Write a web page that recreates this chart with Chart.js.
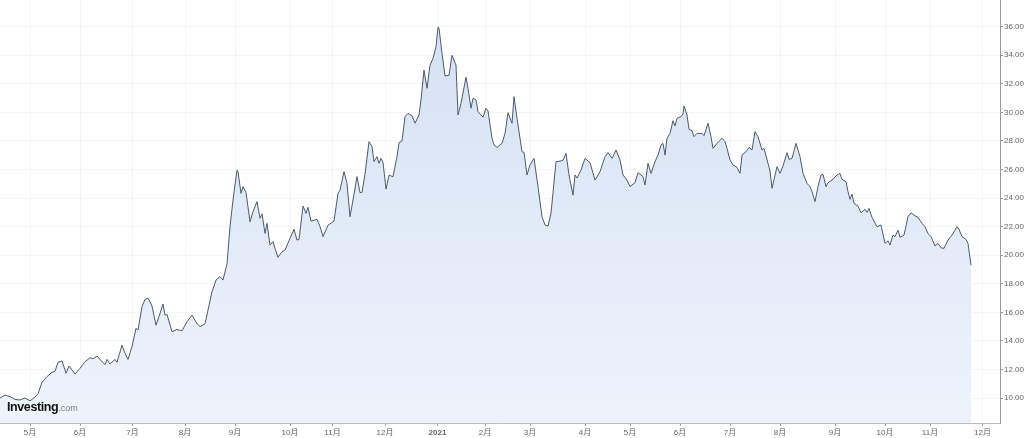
<!DOCTYPE html>
<html>
<head>
<meta charset="utf-8">
<script src="https://cdn.jsdelivr.net/npm/chart.js@4.4.1/dist/chart.umd.min.js"></script>
<style>
    html, body { margin: 0; padding: 0; background: #fff; }
    #wrap { position: relative; width: 1024px; height: 438px; }
    #logo { position: absolute; left: 7px; top: 397px; font-family: "Liberation Sans", Arial, sans-serif; color: #111; }
    #logo b { font-size: 12.5px; letter-spacing: -0.4px; }
    #logo span { font-size: 9px; color: #7a7a7a; }
</style>
</head>
<body>
<div id="wrap">
    <canvas id="chart" width="1024" height="438"></canvas>
    <div id="logo"><b>Investing</b><span>.com</span></div>
</div>
<script>
// trading-day index from start of the window, and closing price
const days = [
    0, 2, 4, 6, 8, 10, 12, 14, 15.2, 16.8, 18.8, 20.8, 22, 23.2, 24.8, 26.4, 27.6, 30, 32, 34,
    36, 37.2, 38.8, 40, 42, 42.8, 44, 46, 46.8, 48.8, 50, 51.2, 52.8, 54.4, 55.2, 56.8, 58, 59.2, 60.8, 62.4,
    63.6, 65.2, 66, 66.8, 68.8, 70.8, 72.8, 74.8, 76.8, 78.8, 80, 82, 83.2, 84.8, 86.4, 88, 89.2, 90.8, 92, 93.2,
    94.8, 95.2, 96.4, 97.2, 98.4, 100, 101.2, 102.8, 104, 104.8, 106, 106.8, 108, 109.2, 110, 111.2, 112.8, 114, 116, 117.6,
    118.8, 119.6, 121.2, 122.4, 123.2, 124.4, 126.8, 128, 129.2, 131.2, 133.6, 135.2, 136, 137.6, 138.8, 140, 141.2, 142.8, 144, 144.8,
    146, 147.6, 148.8, 149.6, 150.8, 151.6, 152.4, 153.2, 154.4, 155.6, 157.2, 158.8, 159.6, 160.8, 162, 163.2, 164.8, 166, 167.6, 168.4,
    169.6, 170.8, 172, 173.2, 174.4, 175.2, 175.6, 176.8, 178, 179.6, 180.8, 182.4, 183.2, 184.4, 186.4, 187.2, 188.4, 189.2, 190.4, 191.2,
    193.2, 194.4, 195.2, 196.8, 197.6, 198.8, 200.8, 202, 203.2, 204.8, 205.6, 206.8, 208.8, 209.6, 210.8, 212, 213.6, 215.2, 216.8, 218,
    219.2, 220.4, 222.4, 224.4, 225.2, 226.4, 227.6, 229.2, 230, 230.8, 232.4, 234, 236, 238, 240, 242, 243.2, 244.8, 246.4, 248,
    249.2, 250.8, 252, 254, 255.2, 257.2, 258, 259.2, 260.4, 262, 263.2, 264.4, 265.2, 266, 266.8, 268, 269.2, 270, 270.8, 272.4,
    273.2, 273.6, 274.8, 275.6, 276.8, 277.6, 278.8, 280.8, 281.6, 283.2, 284.4, 285.2, 286.8, 288.8, 290, 290.8, 292, 293.2, 294.8, 296,
    296.8, 298.8, 299.6, 300.8, 302, 303.2, 304.8, 305.6, 307.2, 308, 308.8, 310.8, 312, 313.2, 314.8, 315.6, 316.8, 318.4, 320, 321.2,
    322.8, 324, 324.8, 326, 327.2, 328.4, 329.2, 330.4, 331.2, 333.2, 334.8, 336, 336.8, 338.4, 339.2, 340, 340.8, 341.6, 343.2, 344.4,
    346, 346.8, 347.6, 348.8, 350.8, 352.4, 354, 355.2, 356, 357.2, 358, 359.2, 360, 361.6, 363.2, 364.4, 366, 367.2, 368.8, 370,
    371.2, 372.4, 374, 375.2, 376.4, 377.6, 379.2, 380.8, 382.8, 383.6, 384.8, 386.4, 387.2, 388.4
];
const closes = [
    10.0, 10.2, 10.1, 9.9, 9.86, 10.0, 9.8, 10.07, 10.3, 11.1, 11.5, 11.8, 11.87, 12.5, 12.6, 11.73, 12.24, 11.68, 12.08, 12.54,
    12.82, 12.75, 12.94, 12.7, 12.33, 12.7, 12.38, 12.7, 12.5, 13.7, 13.13, 12.7, 13.6, 14.88, 14.76, 16.4, 16.9, 17.0, 16.44, 15.1,
    15.7, 16.58, 15.8, 15.85, 14.64, 14.8, 14.7, 15.34, 15.8, 15.2, 15.0, 15.2, 16.16, 17.44, 18.26, 18.5, 18.26, 19.4, 22.0, 23.86,
    25.96, 25.85, 24.33, 24.8, 24.4, 22.34, 23.05, 23.75, 22.58, 22.9, 21.53, 22.23, 20.71, 20.95, 20.48, 19.85, 20.25, 20.36, 21.18, 21.81,
    21.06, 21.1, 23.44, 22.93, 23.35, 22.39, 22.51, 22.0, 21.3, 22.1, 22.39, 24.33, 24.56, 25.85, 25.03, 22.7, 23.86, 25.5, 24.38, 24.4,
    25.68, 27.95, 27.6, 26.55, 26.9, 26.43, 26.78, 26.5, 24.63, 25.6, 25.5, 26.9, 27.88, 28.0, 29.7, 29.93, 29.77, 29.24, 29.82, 30.87,
    32.97, 31.69, 33.3, 33.79, 34.6, 35.96, 35.9, 34.14, 32.55, 32.6, 34.0, 33.3, 29.82, 30.64, 32.46, 31.69, 30.29, 30.99, 30.87, 30.05,
    29.66, 30.29, 30.1, 28.19, 27.72, 27.55, 27.83, 28.53, 29.98, 29.24, 31.1, 29.58, 27.25, 27.2, 25.62, 26.32, 26.78, 24.8, 22.7, 22.11,
    22.04, 22.93, 26.55, 26.6, 26.65, 27.13, 25.62, 24.2, 25.62, 25.4, 25.96, 26.78, 26.48, 25.26, 25.85, 26.9, 27.18, 26.78, 27.37, 26.67,
    25.62, 25.26, 24.8, 25.08, 25.78, 25.5, 24.92, 26.43, 25.73, 26.55, 27.01, 27.72, 27.83, 27.01, 28.19, 28.53, 29.42, 29.05, 29.58, 29.7,
    29.89, 30.45, 29.82, 28.82, 28.72, 28.3, 28.53, 28.53, 28.37, 29.24, 28.3, 27.48, 27.83, 28.19, 27.95, 27.48, 26.67, 26.32, 26.15, 25.73,
    27.01, 27.32, 27.55, 27.37, 28.65, 28.3, 27.37, 27.48, 26.43, 25.9, 24.68, 26.2, 25.73, 26.25, 27.18, 26.71, 26.78, 27.83, 26.9, 25.73,
    25.03, 24.8, 24.45, 23.75, 24.8, 25.62, 25.66, 24.8, 25.08, 25.31, 25.62, 25.73, 25.31, 25.15, 24.45, 23.91, 24.28, 23.63, 23.44, 22.97,
    23.21, 23.0, 23.28, 22.65, 21.99, 22.11, 20.83, 21.0, 20.71, 21.41, 21.3, 21.76, 21.25, 21.41, 22.7, 22.97, 22.76, 22.65, 22.23, 21.99,
    21.53, 21.3, 20.64, 20.83, 20.52, 20.48, 21.06, 21.41, 21.99, 21.81, 21.3, 21.11, 20.83, 19.3
];
const monthTickDays = [12, 32, 53, 74, 94, 116, 133, 154, 175, 194, 212, 234, 252, 272, 292, 312, 334, 354, 372, 393];
const monthLabels = ['5月', '6月', '7月', '8月', '9月', '10月', '11月', '12月', '2021', '2月',
    '3月', '4月', '5月', '6月', '7月', '8月', '9月', '10月', '11月', '12月'];
const priceTicks = [10, 12, 14, 16, 18, 20, 22, 24, 26, 28, 30, 32, 34, 36];

const FONT = '"Liberation Sans", Arial, "Noto Sans CJK SC", sans-serif';

function areaFill(ctx) {
    const area = ctx.chart.chartArea;
    if (!area) return '#e3ecf8';
    const g = ctx.chart.ctx.createLinearGradient(0, area.top, 0, area.bottom);
    g.addColorStop(0, '#d3e1f3');
    g.addColorStop(1, '#eef3fb');
    return g;
}

new Chart(document.getElementById('chart'), {
    type: 'line',
    data: {
        datasets: [{
            data: days.map((d, i) => ({ x: d, y: closes[i] })),
            borderColor: '#4b5a6e',
            borderWidth: 1,
            backgroundColor: areaFill,
            fill: 'start',
            pointRadius: 0,
            tension: 0
        }]
    },
    options: {
        responsive: false, animation: false,
        layout: { padding: 0 },
        plugins: { legend: { display: false }, tooltip: { enabled: false } },
        scales: {
            x: {
                type: 'linear', min: 0, max: 400,
                afterBuildTicks: s => { s.ticks = monthTickDays.map(v => ({ value: v })); },
                afterFit: s => { s.height = 15; s.paddingLeft = 0; s.paddingRight = 0; },
                grid: { color: 'rgba(0,0,0,0.04)', tickLength: 3, tickColor: '#999' },
                border: { color: '#bbb' },
                ticks: {
                    autoSkip: false, maxRotation: 0, padding: 2, color: '#666',
                    font: c => ({ family: FONT, size: 8, weight: monthLabels[c.index] === '2021' ? 'bold' : 'normal' }),
                    callback: (v, i) => monthLabels[i]
                }
            },
            y: {
                position: 'right', min: 8.25, max: 37.87,
                afterBuildTicks: s => { s.ticks = priceTicks.map(v => ({ value: v })); },
                // no extra room above/below for the edge labels
                afterFit: s => { s.width = 24; s.paddingTop = 0; s.paddingBottom = 0; },
                grid: { color: 'rgba(0,0,0,0.04)', tickLength: 3, tickColor: '#999' },
                border: { color: '#999' },
                ticks: {
                    padding: 1, color: '#666',
                    font: { family: FONT, size: 8 },
                    callback: v => v.toFixed(2)
                }
            }
        }
    }
});
</script>
</body>
</html>
